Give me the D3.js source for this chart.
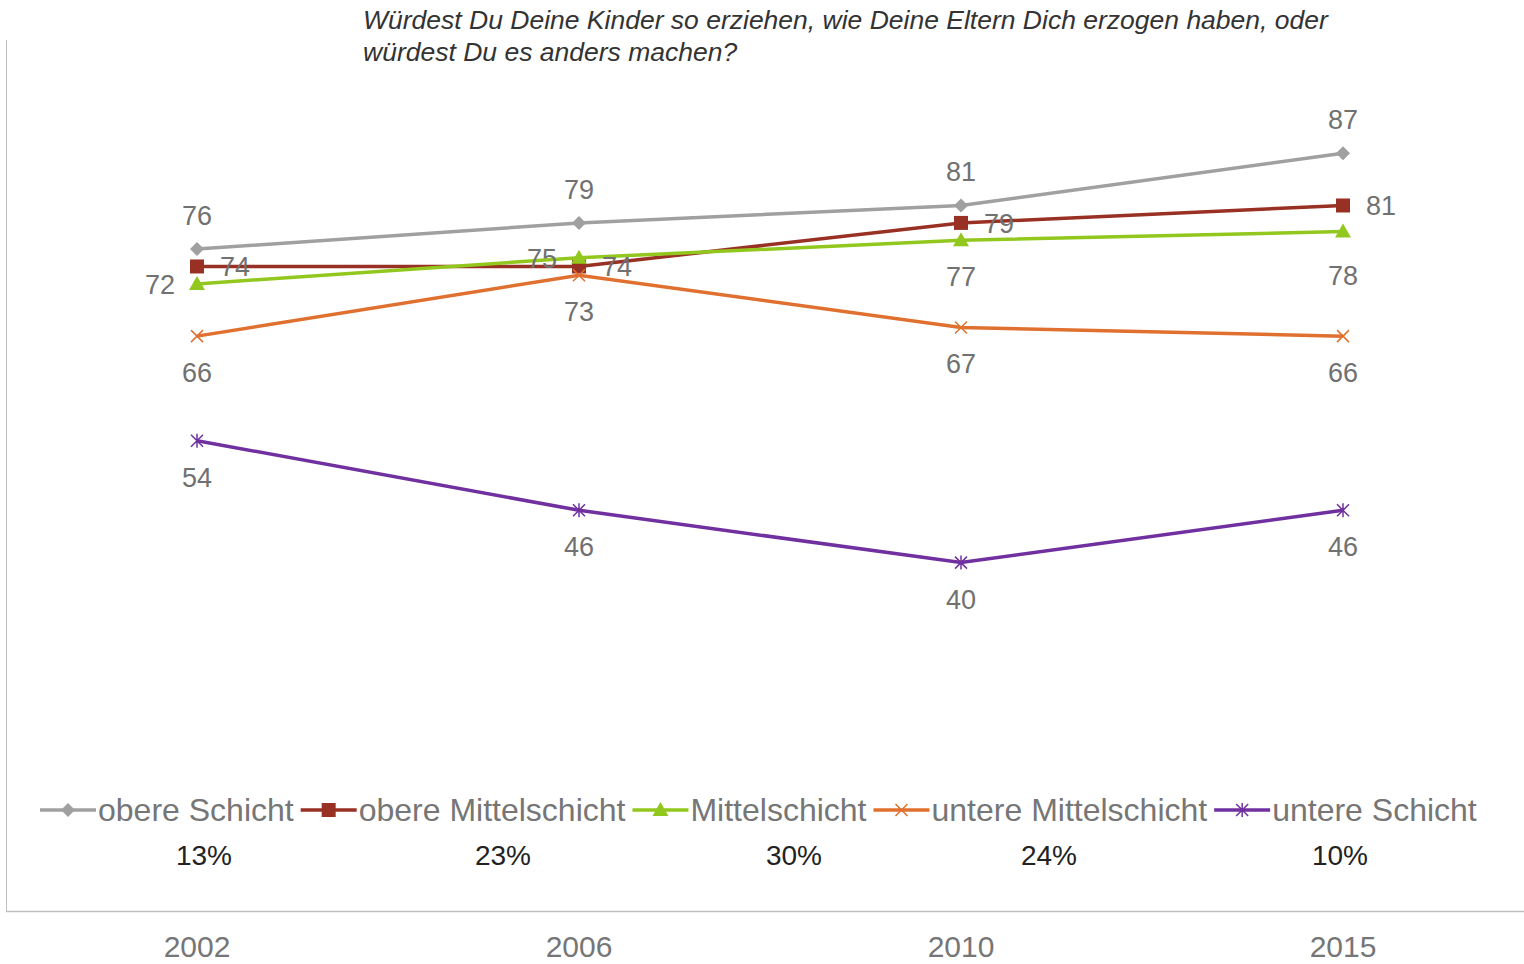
<html>
<head>
<meta charset="utf-8">
<script src="https://d3js.org/d3.v7.min.js"></script>
<style>
body { margin: 0; background: #fff; }
svg { display: block; }
</style>
</head>
<body>
<svg id="chart"></svg>
<script>

var width = 1524;
var height = 964;

// data
var years = ["2002", "2006", "2010", "2015"];
var seriesNames = ["obere Schicht", "obere Mittelschicht", "Mittelschicht", "untere Mittelschicht", "untere Schicht"];
var obereSchicht = [76, 79, 81, 87];
var obereMittelschicht = [74, 74, 79, 81];
var mittelschicht = [72, 75, 77, 78];
var untereMittelschicht = [66, 73, 67, 66];
var untereSchicht = [54, 46, 40, 46];
var shares = ["13%", "23%", "30%", "24%", "10%"];
var title = ["Würdest Du Deine Kinder so erziehen, wie Deine Eltern Dich erzogen haben, oder",
             "würdest Du es anders machen?"];

var colors = ["#a0a0a0", "#983024", "#92c81e", "#e0702f", "#7030a0"];
var symbols = ["diamond", "square", "triangle", "cross", "star"];
var labelPos = [
  ["above", "above", "above", "above"],
  ["right", "right", "right", "right"],
  ["left", "left", "below", "below"],
  ["below", "below", "below", "below"],
  ["below", "below", "below", "below"]
];
var allSeries = [obereSchicht, obereMittelschicht, mittelschicht, untereMittelschicht, untereSchicht];

var font = "'Liberation Sans', Arial, sans-serif";

var svg = d3.select("#chart").attr("width", width).attr("height", height);

var x = d3.scalePoint().domain(years).range([6, 1534]).padding(0.5);
var y = d3.scaleLinear().domain([0, 100]).range([911, 40]);

// axes frame
svg.append("line").attr("x1", 6.5).attr("x2", 6.5).attr("y1", y(100)).attr("y2", y(0))
  .style("stroke", "#bfbfbf").style("stroke-width", 1);
svg.append("line").attr("x1", 6).attr("x2", width).attr("y1", y(0) + 0.5).attr("y2", y(0) + 0.5)
  .style("stroke", "#bfbfbf").style("stroke-width", 1.5);

// year labels
svg.selectAll("text.year").data(years).enter().append("text")
  .attr("class", "year")
  .attr("x", function (d) { return x(d); })
  .attr("y", 957)
  .attr("text-anchor", "middle")
  .style("font-family", font)
  .style("font-size", "30px")
  .style("fill", "#767676")
  .text(function (d) { return d; });

// title
svg.selectAll("text.title").data(title).enter().append("text")
  .attr("class", "title")
  .attr("x", 363)
  .attr("y", function (d, i) { return 29 + i * 32; })
  .style("font-family", font)
  .style("font-style", "italic")
  .style("font-size", "26.5px")
  .style("fill", "#333")
  .text(function (d) { return d; });

function markerPath(kind, cx, cy) {
  var p = d3.path();
  if (kind === "diamond") {
    p.moveTo(cx, cy - 7); p.lineTo(cx + 7, cy); p.lineTo(cx, cy + 7); p.lineTo(cx - 7, cy); p.closePath();
  } else if (kind === "square") {
    p.rect(cx - 7, cy - 7, 14, 14);
  } else if (kind === "triangle") {
    p.moveTo(cx, cy - 8); p.lineTo(cx + 8, cy + 6); p.lineTo(cx - 8, cy + 6); p.closePath();
  } else if (kind === "cross") {
    p.moveTo(cx - 6, cy - 6); p.lineTo(cx + 6, cy + 6); p.moveTo(cx + 6, cy - 6); p.lineTo(cx - 6, cy + 6);
  } else {
    p.moveTo(cx - 6, cy - 6); p.lineTo(cx + 6, cy + 6); p.moveTo(cx + 6, cy - 6); p.lineTo(cx - 6, cy + 6);
    p.moveTo(cx, cy - 7); p.lineTo(cx, cy + 7);
  }
  return p.toString();
}

function drawMarker(g, kind, color, cx, cy) {
  var filled = (kind === "diamond" || kind === "square" || kind === "triangle");
  g.append("path")
    .attr("d", markerPath(kind, cx, cy))
    .style("fill", filled ? color : "none")
    .style("stroke", color)
    .style("stroke-width", filled ? 0 : 1.5);
}

var line = d3.line()
  .x(function (d, i) { return x(years[i]); })
  .y(function (d) { return y(d); });

allSeries.forEach(function (vals, s) {
  var g = svg.append("g");
  g.append("path").datum(vals)
    .attr("d", line)
    .style("fill", "none")
    .style("stroke", colors[s])
    .style("stroke-width", 3.5);
  vals.forEach(function (v, i) {
    drawMarker(g, symbols[s], colors[s], x(years[i]), y(v));
  });
});

// data labels on top
allSeries.forEach(function (vals, s) {
  vals.forEach(function (v, i) {
    var px = x(years[i]), py = y(v), pos = labelPos[s][i];
    var t = svg.append("text")
      .style("font-family", font)
      .style("font-size", "27px")
      .style("fill", "#717171")
      .text(v);
    if (pos === "above") t.attr("x", px).attr("y", py - 24).attr("text-anchor", "middle");
    else if (pos === "below") t.attr("x", px).attr("y", py + (s === 2 && i === 3 ? 53 : 46)).attr("text-anchor", "middle");
    else if (pos === "right") t.attr("x", px + 23).attr("y", py + 10).attr("text-anchor", "start");
    else t.attr("x", px - 22).attr("y", py + 10).attr("text-anchor", "end");
  });
});

// legend
var lx = 40, ly = 810;
seriesNames.forEach(function (name, s) {
  var g = svg.append("g");
  g.append("line").attr("x1", lx).attr("x2", lx + 56).attr("y1", ly).attr("y2", ly)
    .style("stroke", colors[s]).style("stroke-width", 3.5);
  drawMarker(g, symbols[s], colors[s], lx + 28, ly);
  var t = g.append("text")
    .attr("x", lx + 58)
    .attr("y", ly + 11)
    .style("font-family", font)
    .style("font-size", "32px")
    .style("fill", "#767676")
    .text(name);
  lx = lx + 58 + t.node().getComputedTextLength() + 7;
});

// shares of population
var shareX = [204, 503, 794, 1049, 1340];
svg.selectAll("text.share").data(shares).enter().append("text")
  .attr("class", "share")
  .attr("x", function (d, i) { return shareX[i]; })
  .attr("y", 865)
  .attr("text-anchor", "middle")
  .style("font-family", font)
  .style("font-size", "28px")
  .style("fill", "#222")
  .text(function (d) { return d; });

</script>
</body>
</html>
